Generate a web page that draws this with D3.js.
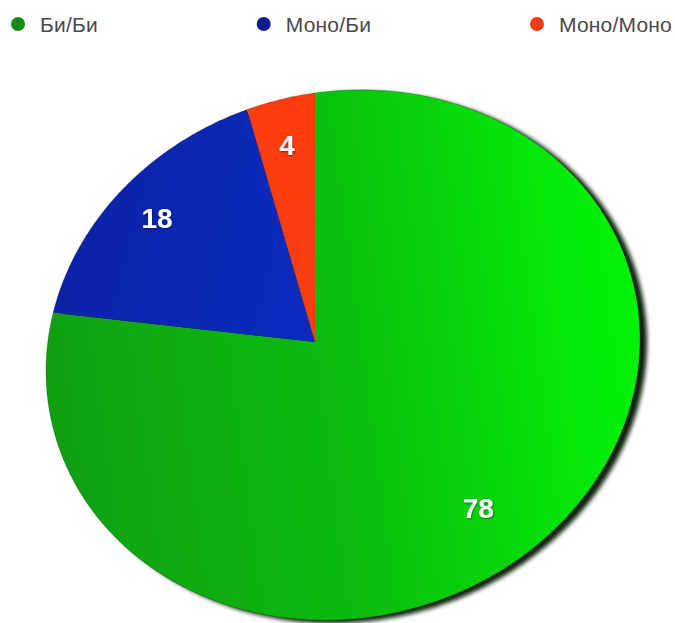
<!DOCTYPE html>
<html>
<head>
<meta charset="utf-8">
<script src="https://cdn.jsdelivr.net/npm/d3@7"></script>
<style>
  html, body { margin: 0; padding: 0; background: #ffffff; }
  svg { display: block; }
</style>
</head>
<body>
<svg id="chart" width="675" height="623"></svg>
<script>
// Shares of the three groups
const categories = ["Би/Би", "Моно/Би", "Моно/Моно"];
const values = [78, 18, 4];
const valueLabels = ["78", "18", "4"];
const legendColors = ["#148c18", "#0b1d92", "#f23c16"];

const W = 675, H = 623;
const svg = d3.select("#chart");
const defs = svg.append("defs");

// ---- tilted disc: an ellipse on screen, hub seen off-centre (perspective) ----
const disc = { cx: 343, cy: 355, rx: 299, ry: 263, tilt: 14, hub: [315, 342] };
const tr = disc.tilt * Math.PI / 180;
const axU = [Math.cos(tr), -Math.sin(tr)];
const axV = [Math.sin(tr), Math.cos(tr)];

function toFrame([x, y]) {
  const dx = x - disc.cx, dy = y - disc.cy;
  return [(dx * axU[0] + dy * axU[1]) / disc.rx, (dx * axV[0] + dy * axV[1]) / disc.ry];
}
function fromFrame([u, v]) {
  return [disc.cx + disc.rx * u * axU[0] + disc.ry * v * axV[0],
          disc.cy + disc.rx * u * axU[1] + disc.ry * v * axV[1]];
}
const hubF = toFrame(disc.hub);
const hr = Math.hypot(hubF[0], hubF[1]);
const hn = [hubF[0] / hr, hubF[1] / hr];
const hk = Math.sqrt(1 - hr * hr);
// projective map of the unit disc onto itself moving the origin by s along hn
function shift(q, s) {
  const par = q[0] * hn[0] + q[1] * hn[1];
  const perp = [q[0] - par * hn[0], q[1] - par * hn[1]];
  const d = 1 + s * par;
  const np = (par + s) / d, f = hk / d;
  return [np * hn[0] + perp[0] * f, np * hn[1] + perp[1] * f];
}
// rotate so that angle 0 runs straight up from the hub
const upDir = (() => {
  const d = [Math.sin(tr) / disc.rx, -Math.cos(tr) / disc.ry];
  const l = Math.hypot(d[0], d[1]);
  return [d[0] / l, d[1] / l];
})();
const phi = (() => {
  const pd = hubF[0] * upDir[0] + hubF[1] * upDir[1];
  const s = -pd + Math.sqrt(pd * pd - hr * hr + 1);
  const top = [hubF[0] + s * upDir[0], hubF[1] + s * upDir[1]];
  const src = shift(top, -hr);
  return Math.atan2(src[0], -src[1]);
})();
function project(angle, rho) {
  const a = angle + phi;
  return fromFrame(shift([rho * Math.sin(a), -rho * Math.cos(a)], hr));
}

// ---- gradients & filters ----
function linGrad(id, x1, y1, x2, y2, stops) {
  const g = defs.append("linearGradient").attr("id", id)
    .attr("gradientUnits", "userSpaceOnUse")
    .attr("x1", x1).attr("y1", y1).attr("x2", x2).attr("y2", y2);
  stops.forEach(([o, c]) => g.append("stop").attr("offset", o).attr("stop-color", c));
}
linGrad("g0", 45, 380, 640, 300, [[0, "#0f9f11"], [0.12, "#10a712"], [0.45, "#0bba0e"], [0.68, "#08d20b"], [0.9, "#04ec08"], [1, "#03f206"]]);
linGrad("g1", 55, 200, 315, 260, [[0, "#0b21a4"], [1, "#0a2bbd"]]);
linGrad("g2", 250, 100, 315, 300, [[0, "#ff3c0c"], [1, "#f83e12"]]);
const fills = ["url(#g0)", "url(#g1)", "url(#g2)"];

defs.append("filter").attr("id", "shade").attr("x", "-10%").attr("y", "-10%")
  .attr("width", "120%").attr("height", "120%")
  .append("feGaussianBlur").attr("stdDeviation", 2.2);
const ts = defs.append("filter").attr("id", "txtShadow");
ts.append("feDropShadow").attr("dx", 0.6).attr("dy", 1).attr("stdDeviation", 0.8)
  .attr("flood-color", "#000").attr("flood-opacity", 0.45);

const line = d3.line();
const full = d3.range(0, 361).map(i => project(i * Math.PI / 180, 1));

// shadow of the disc
svg.append("path")
  .attr("d", line(full) + "Z")
  .attr("fill", "#0b200b")
  .attr("transform", "translate(7,3)")
  .attr("filter", "url(#shade)");

// ---- slices ----
const pie = d3.pie().sort(null).value(d => d);
const arcs = pie(values);
function slicePath(a) {
  const steps = Math.max(2, Math.ceil((a.endAngle - a.startAngle) / (Math.PI / 360)));
  const pts = [disc.hub];
  for (let i = 0; i <= steps; i++) {
    pts.push(project(a.startAngle + (a.endAngle - a.startAngle) * i / steps, 1));
  }
  return line(pts) + "Z";
}
svg.append("g").selectAll("path").data(arcs).join("path")
  .attr("d", slicePath)
  .attr("fill", (d, i) => fills[i]);

// soft rim along the edge of the disc
svg.append("path")
  .attr("d", line(full) + "Z")
  .attr("fill", "none")
  .attr("stroke", "rgba(0,0,0,0.18)")
  .attr("stroke-width", 1.2);

// ---- value labels ----
svg.append("g").selectAll("text").data(arcs).join("text")
  .attr("transform", d => {
    const [x, y] = project((d.startAngle + d.endAngle) / 2, 0.8);
    return `translate(${x},${y})`;
  })
  .attr("text-anchor", "middle")
  .attr("dominant-baseline", "central")
  .attr("fill", "#ffffff")
  .attr("font-family", "'Liberation Sans', Arial, Helvetica, sans-serif")
  .attr("font-weight", "bold")
  .attr("font-size", 28)
  .attr("filter", "url(#txtShadow)")
  .text((d, i) => valueLabels[i]);

// ---- legend (spread across the top) ----
const legend = svg.append("g");
const items = legend.selectAll("g").data(categories).join("g");
items.append("circle").attr("r", 7).attr("fill", (d, i) => legendColors[i]);
items.append("text")
  .attr("x", 22)
  .attr("dominant-baseline", "central")
  .attr("fill", "#4a4a4a")
  .attr("font-family", "'Liberation Sans', Arial, Helvetica, sans-serif")
  .attr("font-size", 21)
  .attr("letter-spacing", 0.2)
  .text(d => d);
const legLeft = 11, legRight = 672, legY = 24;
const widths = items.nodes().map(n => 14 + 15 + d3.select(n).select("text").node().getComputedTextLength());
const gap = (legRight - legLeft - d3.sum(widths)) / (widths.length - 1);
let xPos = legLeft;
items.each(function(d, i) {
  d3.select(this).attr("transform", `translate(${xPos + 7},${legY})`);
  xPos += widths[i] + gap;
});
</script>
</body>
</html>
